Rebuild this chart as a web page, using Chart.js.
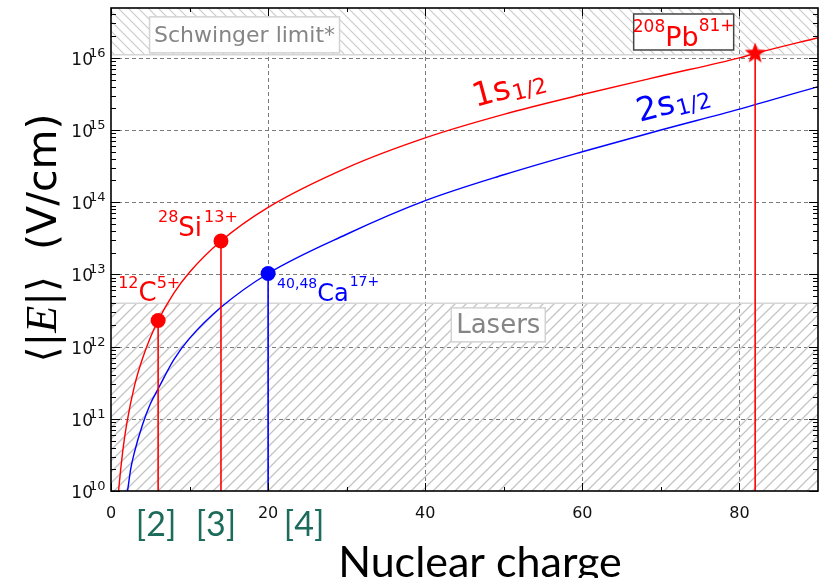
<!DOCTYPE html>
<html>
<head>
<meta charset="utf-8">
<script src="https://cdn.jsdelivr.net/npm/chart.js@4.4.1/dist/chart.umd.min.js"></script>
<style>
  html, body { margin: 0; padding: 0; background: #fff; }
  #wrap { width: 819px; height: 578px; }
</style>
</head>
<body>
<div id="wrap"><canvas id="chart" width="819" height="578"></canvas></div>
<script>
// ---- data ----
const zRed  = [0.9, 1, 1.5, 2, 3, 4, 5, 6, 8, 10, 14, 20, 30, 40, 50, 60, 70, 80, 82, 90];
const eRed  = [8e9, 1.1e10, 3.6e10, 8.5e10, 2.9e11, 6.8e11, 1.33e12, 2.3e12, 5.5e12, 1.07e13,
               2.9e13, 8.5e13, 3e14, 7.8e14, 1.65e15, 3.1e15, 5.6e15, 1e16, 1.15e16, 1.9e16];
const zBlue = [1.9, 2.1, 2.5, 3, 4, 5, 6, 8, 10, 14, 20, 30, 40, 50, 60, 70, 80, 90];
const eBlue = [8e9, 1e10, 2e10, 3.5e10, 8.2e10, 1.6e11, 2.6e11, 6.6e11, 1.3e12, 3.5e12,
               1.03e13, 3.6e13, 1.05e14, 2.4e14, 5e14, 1e15, 1.95e15, 4e15];

// measured ions: C, Si, Ca, Pb
const isoZ      = [6, 14, 20, 82];
const isoE      = [2.3e12, 2.9e13, 1.03e13, 1.15e16];
const isoMass   = ['12', '28', '40,48', '208'];
const isoSym    = ['C', 'Si', 'Ca', 'Pb'];
const isoCharge = ['5+', '13+', '17+', '81+'];
const isoShell  = ['1s', '1s', '2s', '1s'];
const refTags   = ['[2]', '[3]', '[4]'];

const xTicks     = [0, 20, 40, 60, 80];
const xMinor     = [10, 30, 50, 70];
const yExponents = [10, 11, 12, 13, 14, 15, 16];

const laserMax     = 4e12;   // upper edge of "Lasers" band
const schwingerMin = 1.1e16; // lower edge of "Schwinger limit*" band

const X_MIN = 0, X_MAX = 90, Y_MIN = 1e10, Y_MAX = 4.9e16;

const RED = '#ff0000', BLUE = '#0000ff';

function hatch(size, slash, color, lw) {
    const c = document.createElement('canvas');
    c.width = c.height = size;
    const g = c.getContext('2d');
    g.strokeStyle = color;
    g.lineWidth = lw;
    g.beginPath();
    if (slash) {
        g.moveTo(0, size); g.lineTo(size, 0);
        g.moveTo(-2, 2); g.lineTo(2, -2);
        g.moveTo(size - 2, size + 2); g.lineTo(size + 2, size - 2);
    } else {
        g.moveTo(0, 0); g.lineTo(size, size);
        g.moveTo(-2, size - 2); g.lineTo(2, size + 2);
        g.moveTo(size - 2, -2); g.lineTo(size + 2, 2);
    }
    g.stroke();
    return g.createPattern(c, 'repeat');
}

function starImage(r, color) {
    const s = Math.ceil(r * 2 + 2);
    const c = document.createElement('canvas');
    c.width = c.height = s;
    const g = c.getContext('2d');
    g.fillStyle = color;
    g.beginPath();
    for (let i = 0; i < 10; i++) {
        const a = -Math.PI / 2 + i * Math.PI / 5;
        const rr = i % 2 ? r * 0.42 : r;
        g.lineTo(s / 2 + rr * Math.cos(a), s / 2 + rr * Math.sin(a));
    }
    g.closePath();
    g.fill();
    return c;
}

const pts = (xs, ys) => xs.map((x, i) => ({ x, y: ys[i] }));
const shellColor = s => (s === '1s' ? RED : BLUE);

const datasets = [
    {   // lasers band
        data: [{ x: X_MIN, y: laserMax }, { x: X_MAX, y: laserMax }],
        borderColor: '#d6d6d6', borderWidth: 1.5,
        backgroundColor: hatch(11, true, '#c4c4c4', 1.3), fill: 'start',
        showLine: true, pointRadius: 0, order: 10
    },
    {   // schwinger band
        data: [{ x: X_MIN, y: schwingerMin }, { x: X_MAX, y: schwingerMin }],
        borderColor: '#d6d6d6', borderWidth: 1.5,
        backgroundColor: hatch(10, false, '#cacaca', 1.1), fill: 'end',
        showLine: true, pointRadius: 0, order: 10
    },
    {
        data: pts(zRed, eRed), borderColor: RED, borderWidth: 1.4,
        showLine: true, pointRadius: 0, cubicInterpolationMode: 'monotone', order: 3
    },
    {
        data: pts(zBlue, eBlue), borderColor: BLUE, borderWidth: 1.4,
        showLine: true, pointRadius: 0, cubicInterpolationMode: 'monotone', order: 3
    }
];

// drop lines from each ion down to the axis
isoZ.forEach((z, i) => {
    datasets.push({
        data: [{ x: z, y: isoE[i] }, { x: z, y: Y_MIN }],
        borderColor: shellColor(isoShell[i]), borderWidth: 1.6,
        showLine: true, pointRadius: 0, order: 2
    });
});

// ion markers
datasets.push({
    data: isoZ.map((z, i) => ({ x: z, y: isoE[i] })),
    showLine: false,
    pointRadius: isoSym.map(s => (s === 'Pb' ? 11 : 7.5)),
    pointStyle: isoSym.map(s => (s === 'Pb' ? starImage(11, RED) : 'circle')),
    pointBackgroundColor: isoShell.map(shellColor),
    pointBorderWidth: 0,
    order: 0
});

function drawIon(ctx, x, base, i, big, small, raiseM, raiseC, gap) {
    ctx.fillStyle = shellColor(isoShell[i]);
    ctx.textAlign = 'left';
    ctx.textBaseline = 'alphabetic';
    ctx.font = small + 'px "DejaVu Sans"';
    const wm = ctx.measureText(isoMass[i]).width;
    ctx.fillText(isoMass[i], x, base - raiseM);
    ctx.font = big + 'px "DejaVu Sans"';
    const ws = ctx.measureText(isoSym[i]).width;
    ctx.fillText(isoSym[i], x + wm, base);
    ctx.font = small + 'px "DejaVu Sans"';
    ctx.fillText(isoCharge[i], x + wm + ws + gap, base - raiseC);
}

function ionWidth(ctx, i, big, small, gap) {
    ctx.font = small + 'px "DejaVu Sans"';
    let w = ctx.measureText(isoMass[i]).width + ctx.measureText(isoCharge[i]).width + gap;
    ctx.font = big + 'px "DejaVu Sans"';
    return w + ctx.measureText(isoSym[i]).width;
}

function boxedText(ctx, text, cx, cy, font, color, w, h, edge) {
    ctx.fillStyle = 'rgba(255,255,255,0.95)';
    ctx.fillRect(cx - w / 2, cy - h / 2, w, h);
    ctx.strokeStyle = edge;
    ctx.lineWidth = 1.5;
    ctx.strokeRect(cx - w / 2, cy - h / 2, w, h);
    if (text) {
        ctx.font = font;
        ctx.fillStyle = color;
        ctx.textAlign = 'center';
        ctx.textBaseline = 'middle';
        ctx.fillText(text, cx, cy + 1);
    }
}

function shellLabel(ctx, shell, x, y, color) {
    ctx.save();
    ctx.translate(x, y);
    ctx.rotate(-15 * Math.PI / 180);
    ctx.fillStyle = color;
    ctx.textAlign = 'left';
    ctx.textBaseline = 'alphabetic';
    ctx.font = '33px "DejaVu Sans"';
    const w = ctx.measureText(shell).width;
    ctx.fillText(shell, 0, 0);
    ctx.font = '22px "DejaVu Sans"';
    ctx.fillText('1/2', w + 1, 4);
    ctx.restore();
}

const decorations = {
    id: 'decorations',
    beforeDatasetsDraw(chart) {
        const { ctx, chartArea: a, scales: { x, y } } = chart;
        ctx.save();
        ctx.strokeStyle = '#7a7a7a';
        ctx.lineWidth = 1;
        ctx.setLineDash([4, 3]);
        ctx.beginPath();
        xTicks.forEach(v => {
            if (v === X_MIN) return;
            const px = Math.round(x.getPixelForValue(v)) + 0.5;
            ctx.moveTo(px, a.top); ctx.lineTo(px, a.bottom);
        });
        yExponents.forEach(e => {
            if (e === 10) return;
            const py = Math.round(y.getPixelForValue(Math.pow(10, e))) + 0.5;
            ctx.moveTo(a.left, py); ctx.lineTo(a.right, py);
        });
        ctx.stroke();
        ctx.restore();
    },
    afterDatasetsDraw(chart) {
        const { ctx, chartArea: a, scales: { x, y } } = chart;
        ctx.save();

        // frame and inward ticks
        ctx.strokeStyle = '#000';
        ctx.lineWidth = 1.6;
        ctx.strokeRect(a.left, a.top, a.right - a.left, a.bottom - a.top);
        ctx.lineWidth = 1;
        ctx.beginPath();
        for (let e = 10; e <= 16; e++) {
            for (let m = 1; m <= 9; m++) {
                const v = m * Math.pow(10, e);
                if (v > Y_MAX) break;
                const py = Math.round(y.getPixelForValue(v)) + 0.5;
                const len = m === 1 ? 9 : 5;
                ctx.moveTo(a.left, py); ctx.lineTo(a.left + len, py);
                ctx.moveTo(a.right, py); ctx.lineTo(a.right - len, py);
            }
        }
        xTicks.concat(xMinor).forEach(v => {
            const px = Math.round(x.getPixelForValue(v)) + 0.5;
            const len = xMinor.includes(v) ? 4 : 8;
            ctx.moveTo(px, a.top); ctx.lineTo(px, a.top + len);
            ctx.moveTo(px, a.bottom); ctx.lineTo(px, a.bottom - len);
        });
        ctx.stroke();

        // tick labels
        ctx.fillStyle = '#111';
        ctx.textBaseline = 'alphabetic';
        yExponents.forEach(e => {
            const py = y.getPixelForValue(Math.pow(10, e));
            ctx.font = '17px "DejaVu Sans"';
            ctx.textAlign = 'right';
            ctx.fillText('10', a.left - 18, py + 7);
            ctx.font = '13px "DejaVu Sans"';
            ctx.textAlign = 'left';
            ctx.fillText(String(e), a.left - 22, py - 1);
        });
        ctx.font = '16px "DejaVu Sans"';
        ctx.textAlign = 'center';
        xTicks.forEach(v => ctx.fillText(String(v), x.getPixelForValue(v), 518));

        // shaded band labels
        const sx = x.getPixelForValue(17), sy = y.getPixelForValue(2.08e16);
        boxedText(ctx, 'Schwinger limit*', sx, sy, '22px "DejaVu Sans"', '#858585', 190, 36, '#d2d2d2');
        const lx = x.getPixelForValue(49.3), ly = y.getPixelForValue(2.0e12);
        boxedText(ctx, 'Lasers', lx, ly, '26px "DejaVu Sans"', '#858585', 94, 34, '#d2d2d2');

        // ion labels
        const px = i => x.getPixelForValue(isoZ[i]);
        const py = i => y.getPixelForValue(isoE[i]);
        drawIon(ctx, px(0) - 40, py(0) - 19, 0, 26, 16, 13, 13, 0);
        drawIon(ctx, px(1) - 63, py(1) - 5, 1, 26, 16, 14, 14, 2);
        drawIon(ctx, px(2) + 9, py(2) + 28, 2, 24, 14, 13, 15, 1);
        const bx = x.getPixelForValue(72.9), by = y.getPixelForValue(2.28e16);
        boxedText(ctx, '', bx, by, '', '', 100, 36, '#444');
        const wPb = ionWidth(ctx, 3, 27, 17, 0);
        drawIon(ctx, bx - wPb / 2, by + 14, 3, 27, 17, 14, 15, 0);

        // orbital labels
        shellLabel(ctx, '1s', x.getPixelForValue(46.4), y.getPixelForValue(2.08e15), RED);
        shellLabel(ctx, '2s', x.getPixelForValue(67.3), y.getPixelForValue(1.29e15), BLUE);

        // reference tags under the axis
        ctx.font = '34px Lato';
        ctx.fillStyle = '#1d6b5a';
        ctx.textAlign = 'center';
        const tagShift = [-2, -5, 36];
        refTags.forEach((t, i) => ctx.fillText(t, px(i) + tagShift[i], 536));

        // axis titles
        ctx.fillStyle = '#000';
        ctx.font = '43px Lato';
        ctx.fillText('Nuclear charge', 480, 577);

        ctx.translate(56, 238);
        ctx.rotate(-Math.PI / 2);
        const parts = [
            ['\u27E8', '41px "DejaVu Sans"'],
            ['|', '41px "DejaVu Sans"'],
            ['E', 'italic 44px "Liberation Serif"'],
            ['|', '41px "DejaVu Sans"'],
            ['\u27E9', '41px "DejaVu Sans"'],
            ['  (V/cm)', '41px "DejaVu Sans"']
        ];
        let total = 0;
        parts.forEach(p => { ctx.font = p[1]; total += ctx.measureText(p[0]).width; });
        let cx = -total / 2;
        ctx.textAlign = 'left';
        parts.forEach(p => {
            ctx.font = p[1];
            ctx.fillText(p[0], cx, 0);
            cx += ctx.measureText(p[0]).width;
        });
        ctx.restore();
    }
};

new Chart(document.getElementById('chart'), {
    type: 'scatter',
    data: { datasets },
    options: {
        responsive: false,
        animation: false,
        layout: { autoPadding: false, padding: { top: 8, right: 1, left: 0, bottom: 0 } },
        plugins: { legend: { display: false }, tooltip: { enabled: false } },
        scales: {
            x: {
                type: 'linear', min: X_MIN, max: X_MAX,
                grid: { display: false }, border: { display: false },
                ticks: { display: false },
                afterFit(s) { s.height = 87; }
            },
            y: {
                type: 'logarithmic', min: Y_MIN, max: Y_MAX,
                grid: { display: false }, border: { display: false },
                ticks: { display: false },
                afterFit(s) { s.width = 111; }
            }
        }
    },
    plugins: [decorations]
});
</script>
</body>
</html>
